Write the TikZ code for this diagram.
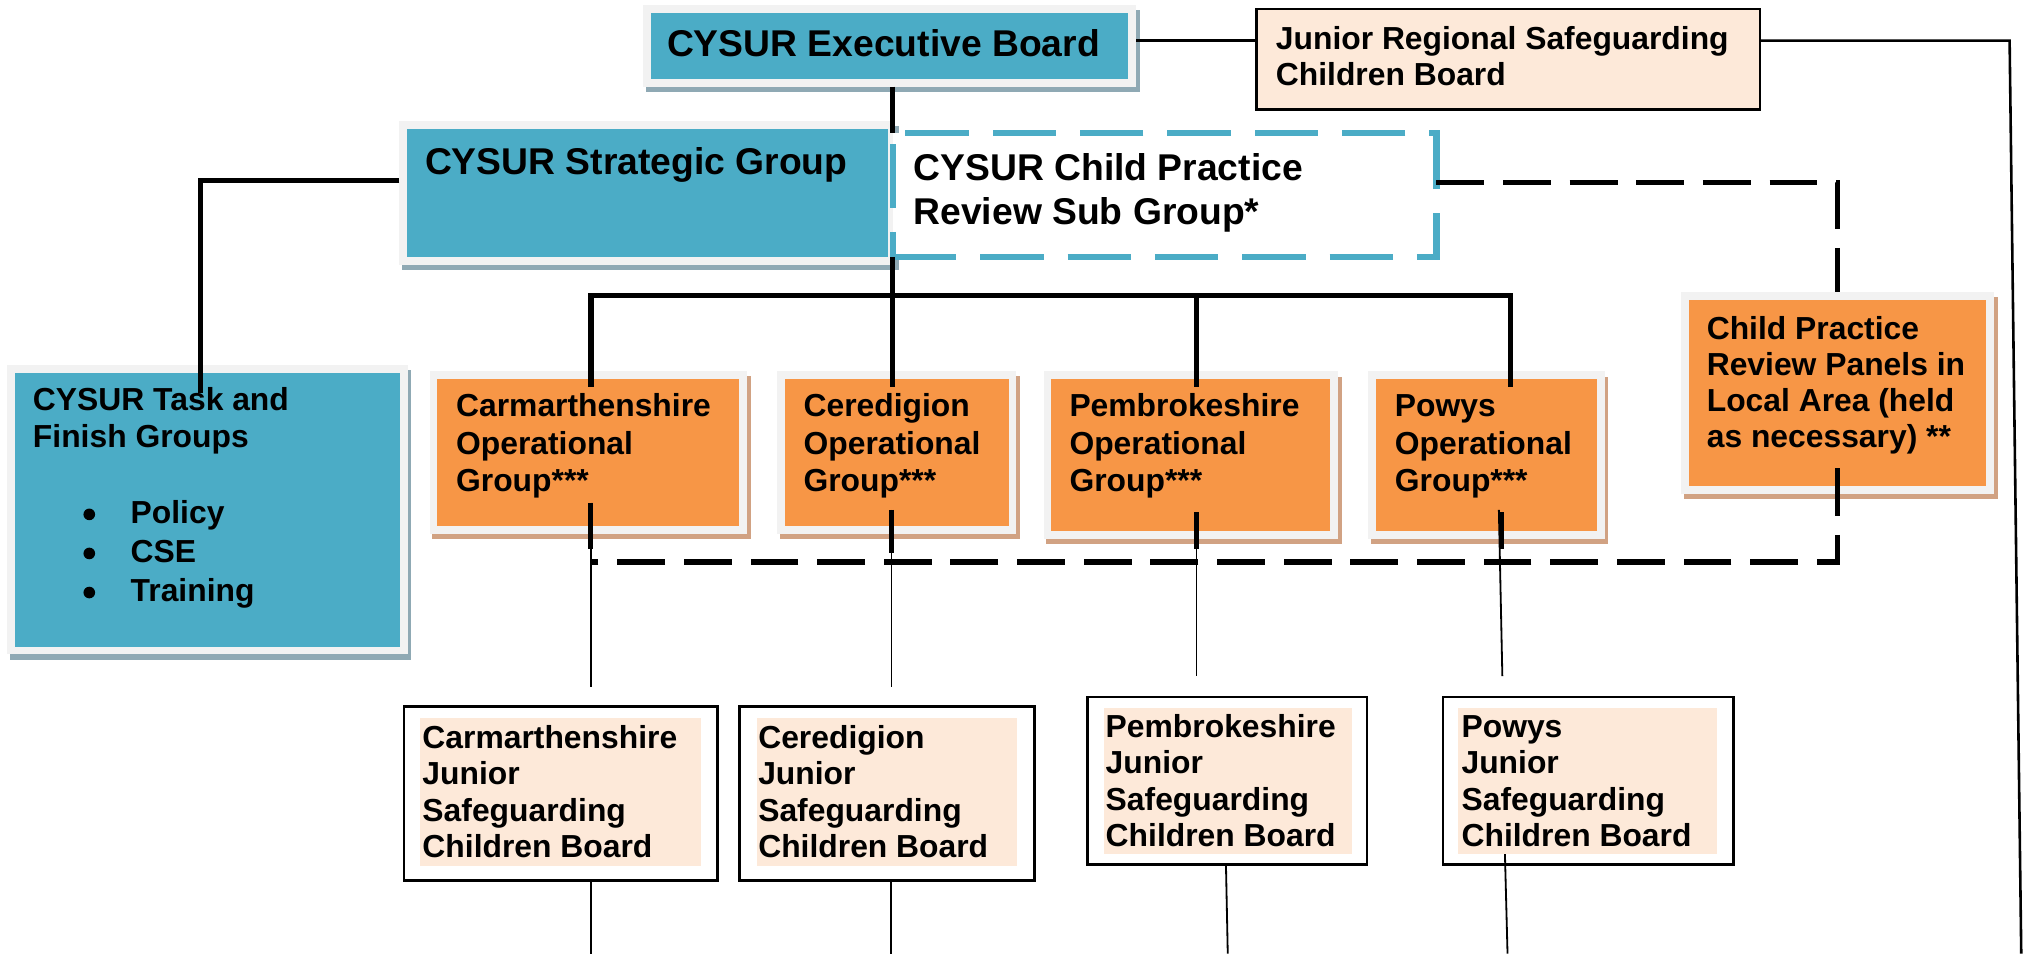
\documentclass[tikz,border=0pt]{standalone}
\usepackage{fontspec}
\setmainfont{Liberation Sans}
\usetikzlibrary{calc}
\definecolor{cteal}{HTML}{4BACC6}
\definecolor{ctealsh}{HTML}{8FA9B4}
\definecolor{corange}{HTML}{F79646}
\definecolor{corangesh}{HTML}{D1A283}
\definecolor{cpeach}{HTML}{FDE9D9}
\definecolor{cframe}{HTML}{F2F2F2}
\tikzset{
  frm/.style={fill=cframe, draw=none, inner sep=0, outer sep=0, anchor=north west},
  jbox/.style={fill=white, draw=black, line width=2pt, inner sep=0, outer sep=0, anchor=north west},
  lbl/.style={anchor=north west, inner sep=0, outer sep=0, align=left},
  big/.style={lbl, font=\bfseries\fontsize{28.8}{34}\selectfont},
  sm/.style={lbl, font=\bfseries\fontsize{24.6}{28}\selectfont},
  ln4/.style={line width=4pt, black},
  ln2/.style={line width=2pt, black},
  ln1/.style={line width=1.4pt, black},
  dsh/.style={line width=4pt, black, dash pattern=on 37pt off 14.5pt},
  bulletdot/.style={circle, fill=black, inner sep=0, minimum size=9pt},
}
% shadowed, framed box: name, x0, y0, x1, y1, fill, shadow
\newcommand\mybox[7]{%
  \fill[#7] (#2+2,#3+4) rectangle (#4+3,#5+4);
  \node[frm, minimum width={#4-#2}, minimum height={#5-#3}] (#1) at (#2,#3) {};
  \fill[#6] ($(#1.north west)+(6,6)$) rectangle ($(#1.south east)+(-6,-6)$);
}
% junior board: name, x0, y0, x1, y1, px0, py0, px1, py1
\newcommand\myjr[9]{%
  \node[jbox, minimum width={#4-#2}, minimum height={#5-#3}] (#1) at (#2,#3) {};
  \fill[cpeach] (#6,#7) rectangle (#8,#9);
}
% text block: style, name, x, first baseline, text
\newcommand\mylbl[5]{\node[#1] (#2) at (#3,#4-25) {\rule{0pt}{25pt}#5};}
\begin{document}
\begin{tikzpicture}[x=1pt,y=-1pt]
\useasboundingbox (0,0) rectangle (1568,737);

% ---- top row
\mybox{exec}{497}{4}{878}{67}{cteal}{ctealsh}
\mylbl{big}{texec}{515.5}{43.7}{CYSUR Executive Board}

\node[anchor=north west, fill=cpeach, draw=black, line width=2pt, inner sep=0, outer sep=0,
      minimum width=389, minimum height=77.6] (jreg) at (971,7) {};
\mylbl{sm}{tjreg}{986}{38}{Junior Regional Safeguarding\\Children Board}

\coordinate (yA) at (0,31.4);
\coordinate (rt) at (1553,31.4);
\coordinate (rb) at (1562,737);
\draw[ln2] (exec.east |- yA) -- (jreg.west |- yA);
\draw[ln2] (jreg.east |- yA) -- (rt) -- (rb);

% ---- strategic level
\mybox{strat}{308.7}{93.3}{692}{204.5}{cteal}{ctealsh}
\mylbl{big}{tstrat}{328.5}{134.6}{CYSUR Strategic Group}

\node[anchor=north west, fill=white, draw=cteal, line width=5pt, inner sep=0, outer sep=0,
      dash pattern=on 49pt off 18.5pt, minimum width=420, minimum height=96] (cprsg) at (690,102.6) {};
\mylbl{big}{tcprsg}{706}{139.2}{CYSUR Child Practice\\Review Sub Group*}

\coordinate (xC) at (689.4,0);
\draw[ln4] (xC |- exec.south) -- (xC |- cprsg.north);

% ---- task and finish
\mybox{task}{5.7}{282}{315}{505.7}{cteal}{ctealsh}
\mylbl{sm}{ttask}{25.5}{317.5}{CYSUR Task and\\Finish Groups}
\node[lbl, font=\bfseries\fontsize{24.6}{30.2}\selectfont] (tbul) at (101,404.5-25)
  {\rule{0pt}{25pt}Policy\\CSE\\Training};
\node[bulletdot] (d1) at (69,397.5) {};
\node[bulletdot] (d2) at (69,427.7) {};
\node[bulletdot] (d3) at (69,457.9) {};

% ---- operational groups
\mybox{carmop}{332}{286.5}{577}{412.5}{corange}{corangesh}
\mybox{cerop}{600.5}{286.5}{785.4}{412.5}{corange}{corangesh}
\mybox{pemop}{806.5}{287}{1033.8}{416.4}{corange}{corangesh}
\mybox{powop}{1057.5}{287}{1240}{416.4}{corange}{corangesh}
\mybox{review}{1299.4}{225.8}{1540.8}{381.8}{corange}{corangesh}

\tikzset{opt/.style={lbl, font=\bfseries\fontsize{24.6}{29}\selectfont}}
\mylbl{opt}{tcarmop}{352.5}{322}{Carmarthenshire\\Operational\\Group***}
\mylbl{opt}{tcerop}{621}{322}{Ceredigion\\Operational\\Group***}
\mylbl{opt}{tpemop}{826.5}{322}{Pembrokeshire\\Operational\\Group***}
\mylbl{opt}{tpowop}{1078}{322}{Powys\\Operational\\Group***}
\mylbl{sm}{treview}{1319}{262}{Child Practice\\Review Panels in\\Local Area (held\\as necessary) **}

% ---- junior boards
\myjr{carmjr}{312.2}{546}{554.4}{680.4}{324.6}{554.8}{542}{669.3}
\myjr{cerjr}{571.5}{546}{799.3}{680.4}{585.3}{554.8}{786.3}{669.3}
\myjr{pemjr}{840.5}{538.5}{1056.5}{668}{853}{547}{1045}{660.3}
\myjr{powjr}{1115}{538.5}{1339.4}{668}{1127}{547}{1326.7}{660}
\mylbl{sm}{tcarmjr}{326.5}{578.5}{Carmarthenshire\\Junior\\Safeguarding\\Children Board}
\mylbl{sm}{tcerjr}{586}{578.5}{Ceredigion\\Junior\\Safeguarding\\Children Board}
\mylbl{sm}{tpemjr}{854.5}{570}{Pembrokeshire\\Junior\\Safeguarding\\Children Board}
\mylbl{sm}{tpowjr}{1129.5}{570}{Powys\\Junior\\Safeguarding\\Children Board}

% ---- solid connectors
\coordinate (yS) at (0,139.2);
\coordinate (xT) at (155,0);
\coordinate (yTk) at (0,303.6);
\draw[ln4] (strat.west |- yS) -- (xT |- yS) -- (xT |- yTk);

\coordinate (yB) at (0,228.2);
\coordinate (yT) at (0,299);
\coordinate (xL) at (456.7,0);
\coordinate (xP) at (924.4,0);
\coordinate (xR) at (1167,0);
\draw[ln4] (xC |- cprsg.south) -- (xC |- yT);
\draw[ln4] (xL |- yT) -- (xL |- yB) -- (xR |- yB) -- (xR |- yT);
\draw[ln4] (xP |- yB) -- (xP |- yT);

% ---- dashed connectors
\coordinate (yD) at (0,141);
\coordinate (xD) at (1420,0);
\coordinate (yE) at (0,434.3);
\draw[dsh] (cprsg.east |- yD) -- (xD |- yD) -- (xD |- review.north);
\draw[dsh] ($(xD |- review.south)+(0,-20)$) -- (xD |- yE) -- (xL |- yE);

% ---- stubs below operational groups
\coordinate (s1a) at (456.5,388.5); \coordinate (s1b) at (456.5,424);
\coordinate (s2a) at (689,394);    \coordinate (s2b) at (689,427);
\coordinate (s3a) at (924.7,396);  \coordinate (s3b) at (924.7,424);
\coordinate (s4a) at (1160.5,396); \coordinate (s4b) at (1160.5,424);
\draw[ln4] (s1a) -- (s1b);
\draw[ln4] (s2a) -- (s2b);
\draw[ln4] (s3a) -- (s3b);
\draw[ln4] (s4a) -- (s4b);

% ---- thin connectors to junior boards
\coordinate (p4) at (1158.3,394);
\draw[ln1] (s1a) -- ($(s1a |- carmjr.north)+(0,-15)$);
\draw[ln1] (s2a) -- ($(s2a |- cerjr.north)+(0,-15)$);
\draw[ln1] (s3a) -- ($(s3a |- pemjr.north)+(0,-16)$);
\draw[ln1] (p4) -- ($(1161,0 |- powjr.north)+(0,-16)$);

% ---- lines below junior boards
\coordinate (b1) at (457,737);
\coordinate (b2) at (688.8,737);
\coordinate (b3) at (948.8,737);
\coordinate (b4) at (1165,737);
\draw[ln1] (b1 |- carmjr.south) -- (b1);
\draw[ln1] (b2 |- cerjr.south) -- (b2);
\draw[ln1] (947.4,0 |- pemjr.south) -- (b3);
\draw[ln1] (1163,660) -- (b4);
\end{tikzpicture}
\end{document}
